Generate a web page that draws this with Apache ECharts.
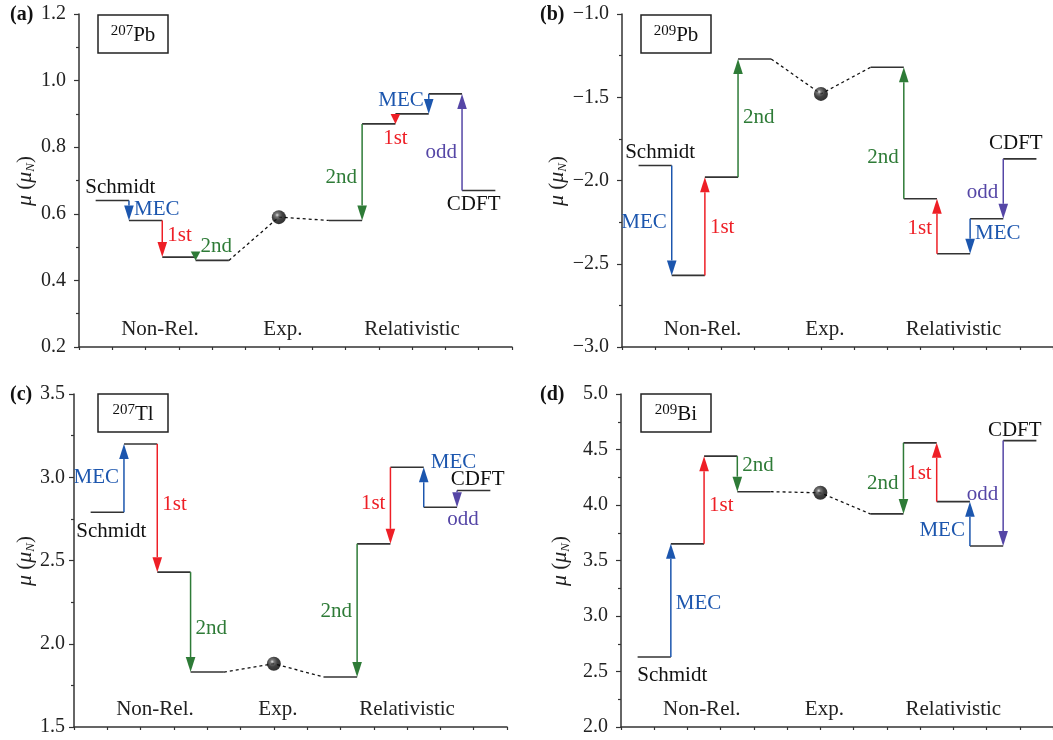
<!DOCTYPE html>
<html>
<head>
<meta charset="utf-8">
<script src="https://cdn.jsdelivr.net/npm/echarts@6/dist/echarts.min.js"></script>
<style>
  html, body { margin: 0; padding: 0; background: #fff; }
  #chart { width: 1053px; height: 740px; }
</style>
</head>
<body>
<div id="chart"></div>
<script>
// Magnetic moments mu (in nuclear magnetons) of four nuclei near 208Pb:
// non-relativistic chain (Schmidt -> +MEC -> +1st -> +2nd), experiment,
// and relativistic chain (CDFT -> +odd -> +MEC -> +1st -> +2nd, drawn right to left).

const nonRelSteps = ['MEC', '1st', '2nd'];
const relSteps = ['2nd', '1st', 'MEC', 'odd'];      // arrows listed left to right
const groupLabels = ['Non-Rel.', 'Exp.', 'Relativistic'];
const startLabel = 'Schmidt';
const endLabel = 'CDFT';

// 207Pb
const pb207NonRel = [0.64, 0.58, 0.47, 0.46];
const pb207Exp = 0.59;
const pb207Rel = [0.58, 0.87, 0.90, 0.96, 0.67];
const pb207Ticks = [0.2, 1.2, 0.2];

// 209Pb
const pb209NonRel = [-1.91, -2.57, -1.98, -1.27];
const pb209Exp = -1.48;
const pb209Rel = [-1.32, -2.11, -2.44, -2.23, -1.87];
const pb209Ticks = [-3.0, -1.0, 0.5];

// 207Tl
const tl207NonRel = [2.79, 3.20, 2.43, 1.83];
const tl207Exp = 1.88;
const tl207Rel = [1.80, 2.60, 3.06, 2.82, 2.92];
const tl207Ticks = [1.5, 3.5, 0.5];

// 209Bi
const bi209NonRel = [2.63, 3.65, 4.44, 4.12];
const bi209Exp = 4.11;
const bi209Rel = [3.92, 4.56, 4.03, 3.63, 4.58];
const bi209Ticks = [2.0, 5.0, 0.5];

const SERIF = '"Liberation Serif", "Times New Roman", "DejaVu Serif", serif';
const FONT = '21px ' + SERIF;
const stepColor = { MEC: '#1c56ae', '1st': '#ee1f26', '2nd': '#2e7b37', odd: '#5546a6' };
const LEVEL_COLOR = '#333';
const AXIS_COLOR = '#333';

// x layout: non-relativistic levels centred on 1..4, experiment on 6, relativistic on 8..12
const NONREL_X0 = 0.5, EXP_X = 6, REL_X0 = 7.5;
const GROUP_X = [2.43, 6.12, 10];

const panels = [
  {
    tag: '(a)', mass: '207', el: 'Pb',
    nonRel: pb207NonRel, exp: pb207Exp, rel: pb207Rel, ticks: pb207Ticks,
    grid: { left: 79, top: 14 }, labelMargin: 13,
    tagPos: [10, 15], boxPos: [98, 15], namePos: [25, 181],
    nonRelText: [{ side: 'right', dy: -1 }, { side: 'right', dy: -3 }, { side: 'right', dy: -12 }],
    relText: [{ side: 'left', dy: 5 }, { side: 'below', dx: 0, dy: 15 }, { side: 'left', dy: -3 }, { side: 'left', dy: 10 }],
    startText: { dx: 8, dy: -13 }, endText: { dx: -5, dy: 14 }
  },
  {
    tag: '(b)', mass: '209', el: 'Pb',
    nonRel: pb209NonRel, exp: pb209Exp, rel: pb209Rel, ticks: pb209Ticks,
    grid: { left: 622, top: 14 }, labelMargin: 13,
    tagPos: [540, 15], boxPos: [641, 15], namePos: [557, 181],
    nonRelText: [{ side: 'left', dy: 2 }, { side: 'right', dy: 1 }, { side: 'right', dy: -1 }],
    relText: [{ side: 'left', dy: 24 }, { side: 'left', dy: 2 }, { side: 'right', dy: -3 }, { side: 'left', dy: 4 }],
    startText: { dx: 5, dy: -13 }, endText: { dx: -4, dy: -15 }
  },
  {
    tag: '(c)', mass: '207', el: 'Tl',
    nonRel: tl207NonRel, exp: tl207Exp, rel: tl207Rel, ticks: tl207Ticks,
    grid: { left: 74, top: 394 }, labelMargin: 9,
    tagPos: [10, 395], boxPos: [98, 394], namePos: [25, 561],
    nonRelText: [{ side: 'left', dy: -1 }, { side: 'right', dy: -4 }, { side: 'right', dy: 6 }],
    relText: [{ side: 'left', dy: 1 }, { side: 'left', dy: -2 }, { side: 'rightTop', dy: -5 }, { side: 'below', dx: 6, dy: 12 }],
    startText: { dx: 4, dy: 19 }, endText: { dx: 4, dy: -11 }
  },
  {
    tag: '(d)', mass: '209', el: 'Bi',
    nonRel: bi209NonRel, exp: bi209Exp, rel: bi209Rel, ticks: bi209Ticks,
    grid: { left: 621, top: 394 }, labelMargin: 13,
    tagPos: [540, 395], boxPos: [641, 394], namePos: [560, 561],
    nonRelText: [{ side: 'right', dy: 3 }, { side: 'right', dy: 5 }, { side: 'right', dy: -8 }],
    relText: [{ side: 'left', dy: 5 }, { side: 'left', dy: 1 }, { side: 'left', dy: 7 }, { side: 'left', dy: 1 }],
    startText: { dx: 18, dy: 18 }, endText: { dx: -5, dy: -10 }
  }
];

const GRID_W = 433, GRID_H = 333;

function fmt(v) {
  return v.toFixed(1).replace('-', '\u2212');
}

const grids = [], xAxes = [], yAxes = [], series = [], graphics = [];

panels.forEach((p, i) => {
  grids.push({ left: p.grid.left, top: p.grid.top, width: GRID_W, height: GRID_H });

  xAxes.push({
    type: 'value', gridIndex: i, min: 0, max: 13, interval: 1,
    axisLine: { onZero: false, lineStyle: { color: AXIS_COLOR, width: 1.5 } },
    axisTick: { inside: false, length: 3, lineStyle: { color: AXIS_COLOR, width: 1.2 } },
    axisLabel: { show: false }, splitLine: { show: false }
  });

  yAxes.push({
    type: 'value', gridIndex: i, min: p.ticks[0], max: p.ticks[1], interval: p.ticks[2],
    axisLine: { show: true, onZero: false, lineStyle: { color: AXIS_COLOR, width: 1.5 } },
    axisTick: { inside: false, length: 5, lineStyle: { color: AXIS_COLOR, width: 1.2 } },
    minorTick: { show: true, splitNumber: 2, length: 3, lineStyle: { color: AXIS_COLOR, width: 1.2 } },
    axisLabel: {
      margin: p.labelMargin, fontFamily: SERIF, fontSize: 20, color: '#222',
      formatter: fmt
    },
    splitLine: { show: false }
  });

  // horizontal levels
  const levels = [];
  p.nonRel.forEach((v, k) => levels.push([NONREL_X0 + k, NONREL_X0 + k + 1, v]));
  p.rel.forEach((v, k) => levels.push([REL_X0 + k, REL_X0 + k + 1, v]));
  series.push({
    type: 'custom', xAxisIndex: i, yAxisIndex: i, z: 3,
    data: levels,
    encode: { x: [0, 1], y: 2 },
    renderItem(params, api) {
      const a = api.coord([api.value(0), api.value(2)]);
      const b = api.coord([api.value(1), api.value(2)]);
      return {
        type: 'line',
        shape: { x1: a[0], y1: a[1], x2: b[0], y2: b[1] },
        style: { stroke: LEVEL_COLOR, lineWidth: 1.6 }
      };
    }
  });

  // correction arrows: [x, from, to]
  const arrows = [], arrowInfo = [];
  for (let k = 1; k < p.nonRel.length; k++) {
    arrows.push([NONREL_X0 + k, p.nonRel[k - 1], p.nonRel[k]]);
    arrowInfo.push({ name: nonRelSteps[k - 1], place: p.nonRelText[k - 1] });
  }
  for (let k = 0; k < p.rel.length - 1; k++) {
    arrows.push([REL_X0 + k + 1, p.rel[k + 1], p.rel[k]]);
    arrowInfo.push({ name: relSteps[k], place: p.relText[k] });
  }
  series.push({
    type: 'custom', xAxisIndex: i, yAxisIndex: i, z: 4,
    data: arrows,
    encode: { x: 0, y: [1, 2] },
    renderItem(params, api) {
      const info = arrowInfo[params.dataIndex];
      const color = stepColor[info.name];
      const a = api.coord([api.value(0), api.value(1)]);
      const b = api.coord([api.value(0), api.value(2)]);
      const dir = b[1] > a[1] ? 1 : -1;
      const len = Math.abs(b[1] - a[1]);
      const head = Math.max(Math.min(15, len), 9);
      const hw = 4.8;
      const baseY = b[1] - dir * head;
      const children = [];
      if (len > head) {
        children.push({
          type: 'line',
          shape: { x1: a[0], y1: a[1], x2: b[0], y2: baseY },
          style: { stroke: color, lineWidth: 1.5 }
        });
      }
      children.push({
        type: 'polygon',
        shape: { points: [[b[0] - hw, baseY], [b[0] + hw, baseY], [b[0], b[1]]] },
        style: { fill: color }
      });
      const pl = info.place;
      const midY = (a[1] + b[1]) / 2;
      const topY = Math.min(a[1], b[1]);
      const botY = Math.max(a[1], b[1]);
      let tx, ty, align;
      if (pl.side === 'left') { tx = a[0] - 5; ty = midY + pl.dy; align = 'right'; }
      else if (pl.side === 'right') { tx = a[0] + 5; ty = midY + pl.dy; align = 'left'; }
      else if (pl.side === 'rightTop') { tx = a[0] + 7; ty = topY + pl.dy; align = 'left'; }
      else { tx = a[0] + (pl.dx || 0); ty = botY + pl.dy; align = 'center'; }
      children.push({
        type: 'text',
        style: {
          x: tx, y: ty, text: info.name, fill: color, font: FONT,
          align: align, verticalAlign: 'middle'
        }
      });
      return { type: 'group', children };
    }
  });

  // model names at the ends of the chains
  const ends = [
    [NONREL_X0 + 0.5, p.nonRel[0]],
    [REL_X0 + p.rel.length - 0.5, p.rel[p.rel.length - 1]]
  ];
  const endInfo = [{ text: startLabel, off: p.startText }, { text: endLabel, off: p.endText }];
  series.push({
    type: 'custom', xAxisIndex: i, yAxisIndex: i, z: 5,
    data: ends,
    renderItem(params, api) {
      const c = api.coord([api.value(0), api.value(1)]);
      const info = endInfo[params.dataIndex];
      return {
        type: 'text',
        style: {
          x: c[0] + info.off.dx, y: c[1] + info.off.dy, text: info.text,
          fill: '#111', font: FONT, align: 'center', verticalAlign: 'middle'
        }
      };
    }
  });

  // group captions above the x axis
  series.push({
    type: 'custom', xAxisIndex: i, yAxisIndex: i, z: 5,
    data: GROUP_X.map(x => [x, p.ticks[0]]),
    renderItem(params, api) {
      const c = api.coord([api.value(0), api.value(1)]);
      return {
        type: 'text',
        style: {
          x: c[0], y: c[1] - 18, text: groupLabels[params.dataIndex],
          fill: '#222', font: FONT, align: 'center', verticalAlign: 'middle'
        }
      };
    }
  });

  // dotted link: non-rel result -> experiment -> relativistic result
  series.push({
    type: 'line', xAxisIndex: i, yAxisIndex: i, z: 2,
    data: [
      [NONREL_X0 + p.nonRel.length, p.nonRel[p.nonRel.length - 1]],
      [EXP_X, p.exp],
      [REL_X0, p.rel[0]]
    ],
    symbol: 'none', silent: true,
    lineStyle: { color: '#111', width: 1.3, type: [3, 3] }
  });

  // experimental value
  series.push({
    type: 'scatter', xAxisIndex: i, yAxisIndex: i, z: 6,
    data: [[EXP_X, p.exp]],
    symbol: 'circle', symbolSize: 14, silent: true,
    itemStyle: {
      color: new echarts.graphic.RadialGradient(0.38, 0.35, 0.62, [
        { offset: 0, color: '#d8d8d8' },
        { offset: 0.22, color: '#555' },
        { offset: 0.6, color: '#111' },
        { offset: 1, color: '#000' }
      ])
    }
  });

  // panel tag
  graphics.push({
    type: 'text', x: p.tagPos[0], y: p.tagPos[1],
    style: {
      text: p.tag, font: 'bold 20px ' + SERIF, fill: '#111',
      align: 'left', verticalAlign: 'middle'
    }
  });

  // nucleus box
  graphics.push({
    type: 'rect',
    shape: { x: p.boxPos[0], y: p.boxPos[1], width: 70, height: 38 },
    style: { fill: '#fff', stroke: '#222', lineWidth: 1.5 }
  });
  graphics.push({
    type: 'text', x: p.boxPos[0] + 35, y: p.boxPos[1] + 20,
    style: {
      text: '{sup|' + p.mass + '}{el|' + p.el + '}',
      align: 'center', verticalAlign: 'middle', fill: '#111',
      rich: {
        sup: { fontFamily: SERIF, fontSize: 15, verticalAlign: 'top', lineHeight: 22, fill: '#111' },
        el: { fontFamily: SERIF, fontSize: 21, verticalAlign: 'bottom', lineHeight: 22, fill: '#111' }
      }
    }
  });

  // y axis name
  graphics.push({
    type: 'text', x: p.namePos[0], y: p.namePos[1], rotation: Math.PI / 2,
    style: {
      text: '{m|\u03bc} {r|(}{m|\u03bc}{s|N}{r|)}',
      align: 'center', verticalAlign: 'middle', fill: '#222',
      fontFamily: SERIF, fontSize: 21,
      rich: {
        m: { fontFamily: SERIF, fontStyle: 'italic', fontSize: 22, lineHeight: 24, verticalAlign: 'middle', fill: '#222' },
        r: { fontFamily: SERIF, fontSize: 21, lineHeight: 24, verticalAlign: 'middle', fill: '#222' },
        s: { fontFamily: SERIF, fontStyle: 'italic', fontSize: 13, lineHeight: 24, verticalAlign: 'bottom', fill: '#222' }
      }
    }
  });
});

const chart = echarts.init(document.getElementById('chart'), null, { renderer: 'canvas' });
chart.setOption({
  animation: false,
  backgroundColor: '#fff',
  grid: grids,
  xAxis: xAxes,
  yAxis: yAxes,
  series: series,
  graphic: graphics
});
</script>
</body>
</html>
